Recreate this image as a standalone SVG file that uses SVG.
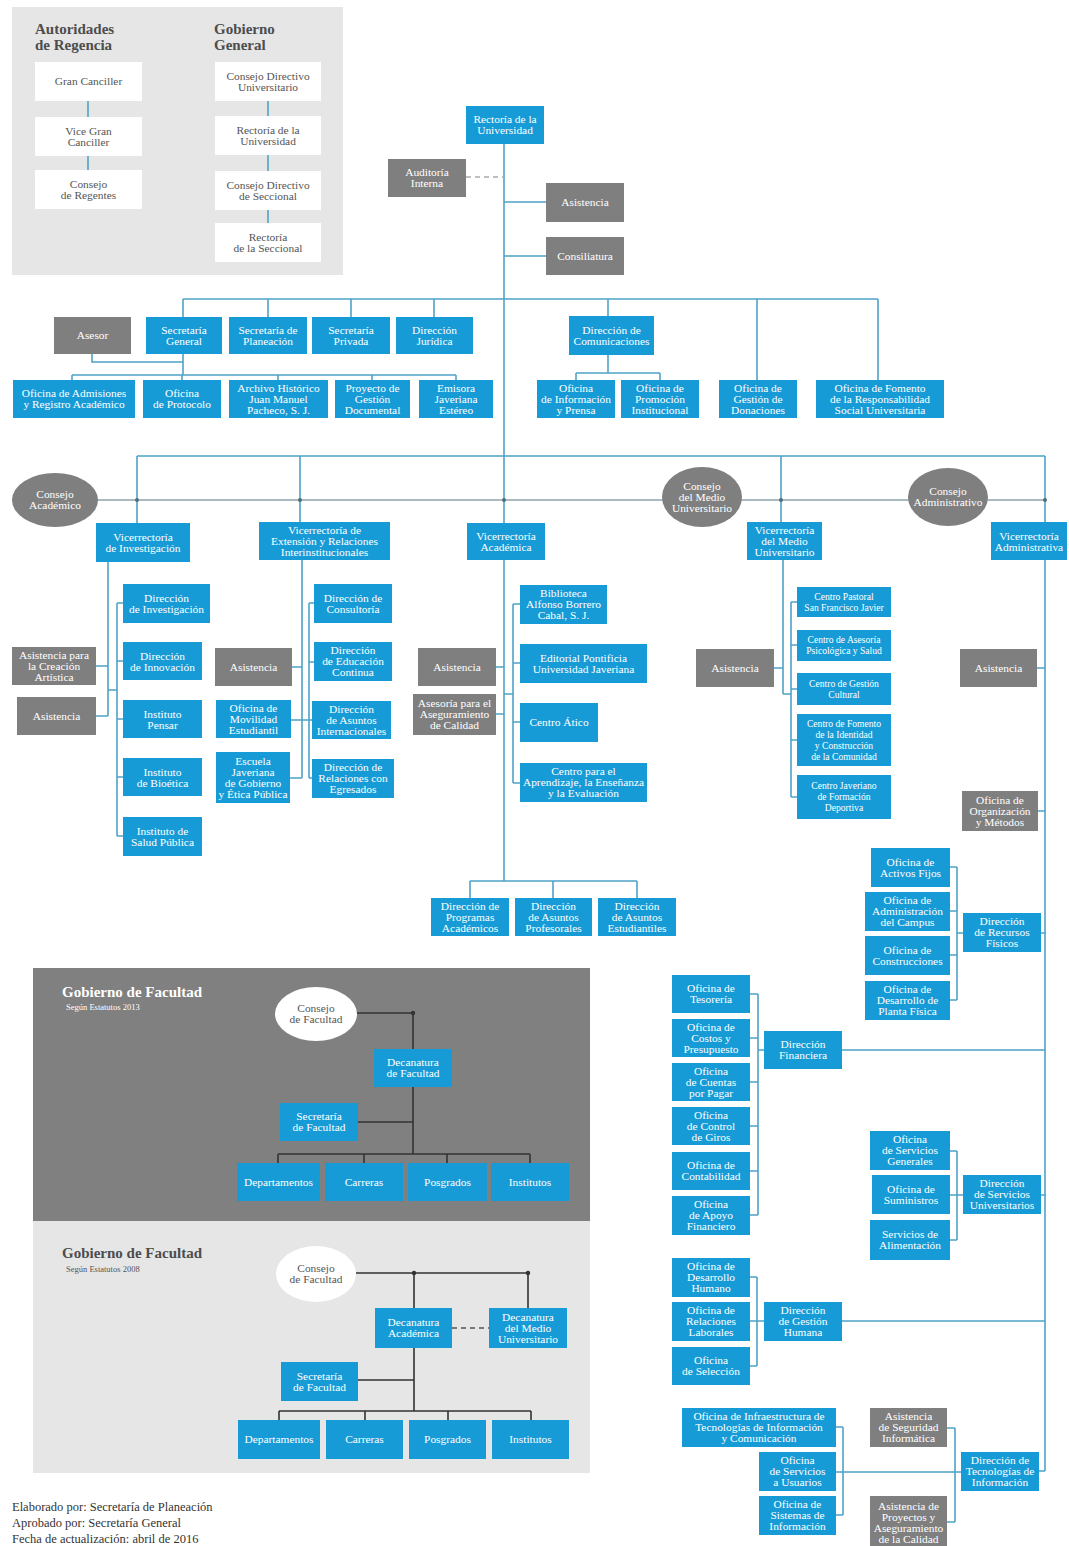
<svg xmlns="http://www.w3.org/2000/svg" width="1069" height="1546" viewBox="0 0 1069 1546">
<style>
.b{fill:#169bd7}
.g{fill:#7f7f7f}
.w{fill:#fff}
.c{stroke:#4fa3c7;stroke-width:1.6;fill:none}
.cg{stroke:#8fa3ad;stroke-width:1.6;fill:none}
.cd{stroke:#333;stroke-width:1.6;fill:none}
.dash{stroke:#aaa;stroke-dasharray:5 4;stroke-width:1.6;fill:none}
.dashd{stroke:#555;stroke-dasharray:5 4;stroke-width:1.6;fill:none}
text{font-family:"Liberation Serif","DejaVu Serif",serif;font-size:11.4px;text-anchor:middle;fill:#fff}
.dk{fill:#555}
.sm{font-size:9.6px}
.ttl{font-size:15px;font-weight:bold;text-anchor:start;fill:#4d4d4d}
.ttlw{font-size:15px;font-weight:bold;text-anchor:start;fill:#fff}
.sub{font-size:8.5px;text-anchor:start}
.ft{font-size:12.5px;text-anchor:start;fill:#333}
</style>
<rect width="1069" height="1546" fill="#fff"/>
<!-- panels -->
<rect x="12" y="7" width="331" height="268" fill="#e6e6e6"/>
<rect x="33" y="968" width="557" height="253" fill="#808080"/>
<rect x="33" y="1221" width="557" height="252" fill="#e6e6e6"/>
<text class="ttl" x="35" y="34">Autoridades</text>
<text class="ttl" x="35" y="50">de Regencia</text>
<text class="ttl" x="214" y="34">Gobierno</text>
<text class="ttl" x="214" y="50">General</text>
<text class="ttlw" x="62" y="997">Gobierno de Facultad</text>
<text class="sub" x="66" y="1010">Según Estatutos 2013</text>
<text class="ttl" x="62" y="1258">Gobierno de Facultad</text>
<text class="sub dk" x="66" y="1272">Según Estatutos 2008</text>

<g id="connectors">
<path class="c" stroke-width="2" d="M88,101V117M88,156V170M268,101V116M268,155V171M268,210V223"/>
<path class="c" d="M504,144V881M504,202H546M504,256H546"/>
<path class="dash" d="M466,177H504"/>
<path class="c" d="M183,299H878M183,299V317M268,299V317M351,299V317M434,299V317M608,299V316M757,299V380M878,299V380"/>
<path class="c" d="M92,354V362H183M183,354V375M72,375H456M72,375V380M182,375V380M278,375V380M372,375V380M456,375V380"/>
<path class="c" d="M608,355V373M576,373H660M576,373V380M660,373V380"/>
<path class="c" d="M137,456H1045M137,456V523M300,456V522M781,456V522M1045,456V1471"/>
<path class="cg" d="M55,500H1045"/>
<g fill="#4d6f80"><circle cx="137" cy="500" r="2"/><circle cx="300" cy="500" r="2"/><circle cx="504" cy="500" r="2"/><circle cx="781" cy="500" r="2"/><circle cx="1045" cy="500" r="2"/></g>
<path class="c" d="M108,562V716M96,666H108M96,716H108M108,690H117M117,603V836M117,603H123M117,661H123M117,719H123M117,777H123M117,836H123"/>
<path class="c" d="M302,560V778M292,667H302M291,720H312M290,778H302M309,603V778M309,603H314M309,662H314M309,778H312"/>
<path class="c" d="M496,667H504M496,714H504M504,694H513M513,604V783M513,604H520M513,663H520M513,722H520M513,783H520"/>
<path class="c" d="M470,881H637M470,881V898M553,881V898M637,881V898"/>
<path class="c" d="M783,560V694M774,668H783M783,694H791M791,602V797M791,602H797M791,645H797M791,689H797M791,740H797M791,797H797"/>
<path class="c" d="M1037,668H1045M1038,811H1045M1041,933H1045M957,867V1000M950,867H957M950,911H957M950,955H957M950,1000H957M957,933H963"/>
<path class="c" d="M842,1050H1045M758,994V1215M758,1050H764M750,994H758M750,1038H758M750,1082H758M750,1126H758M750,1171H758M750,1215H758"/>
<path class="c" d="M1041,1195H1045M957,1151V1240M950,1151H957M950,1195H963M950,1240H957"/>
<path class="c" d="M842,1321H1045M757,1277V1366M750,1277H757M750,1321H764M750,1366H757"/>
<path class="c" d="M1039,1471H1045M836,1472H961M843,1427V1515M836,1427H843M836,1515H843M955,1428V1522M947,1428H955M947,1522H955"/>
<path class="cd" d="M357,1013H413V1154M358,1122H413M278,1154H530M278,1154V1163M364,1154V1163M447,1154V1163M530,1154V1163"/>
<circle cx="413" cy="1013" r="2.2" fill="#333"/>
<path class="cd" d="M356,1273H528M414,1273V1411M528,1273V1308M358,1380H414M279,1411H531M279,1411V1420M365,1411V1420M448,1411V1420M531,1411V1420"/>
<path class="dashd" d="M452,1328H489"/>
<circle cx="414" cy="1273" r="2.2" fill="#333"/><circle cx="528" cy="1273" r="2.2" fill="#333"/>
</g>

<!-- top-left white boxes -->
<g id="gran-canciller"><rect class="w" x="35" y="62" width="107" height="39"/><text class="dk" x="88.5" y="85">Gran Canciller</text></g>
<g id="vice-gran-canciller"><rect class="w" x="35" y="117" width="107" height="39"/><text class="dk"><tspan x="88.5" y="135">Vice Gran</tspan><tspan x="88.5" y="146">Canciller</tspan></text></g>
<g id="consejo-regentes"><rect class="w" x="35" y="170" width="107" height="39"/><text class="dk"><tspan x="88.5" y="188">Consejo</tspan><tspan x="88.5" y="199">de Regentes</tspan></text></g>
<g id="cdu"><rect class="w" x="215" y="62" width="106" height="39"/><text class="dk"><tspan x="268" y="80">Consejo Directivo</tspan><tspan x="268" y="91">Universitario</tspan></text></g>
<g id="rdu"><rect class="w" x="215" y="116" width="106" height="39"/><text class="dk"><tspan x="268" y="134">Rectoría de la</tspan><tspan x="268" y="145">Universidad</tspan></text></g>
<g id="cds"><rect class="w" x="215" y="171" width="106" height="39"/><text class="dk"><tspan x="268" y="189">Consejo Directivo</tspan><tspan x="268" y="200">de Seccional</tspan></text></g>
<g id="rds"><rect class="w" x="215" y="223" width="106" height="39"/><text class="dk"><tspan x="268" y="241">Rectoría</tspan><tspan x="268" y="252">de la Seccional</tspan></text></g>

<!-- top -->
<g id="rectoria"><rect class="b" x="466" y="106" width="78" height="38"/><text><tspan x="505" y="123">Rectoría de la</tspan><tspan x="505" y="134">Universidad</tspan></text></g>
<g id="auditoria"><rect class="g" x="388" y="159" width="78" height="38"/><text><tspan x="427" y="176">Auditoría</tspan><tspan x="427" y="187">Interna</tspan></text></g>
<g id="asistencia0"><rect class="g" x="546" y="183" width="78" height="39"/><text x="585" y="206">Asistencia</text></g>
<g id="consiliatura"><rect class="g" x="546" y="237" width="78" height="38"/><text x="585" y="260">Consiliatura</text></g>

<g id="asesor"><rect class="g" x="54" y="317" width="77" height="37"/><text x="92.5" y="339">Asesor</text></g>
<g id="sec-general"><rect class="b" x="146" y="317" width="76" height="37"/><text><tspan x="184" y="334">Secretaría</tspan><tspan x="184" y="345">General</tspan></text></g>
<g id="sec-planeacion"><rect class="b" x="229" y="317" width="78" height="37"/><text><tspan x="268" y="334">Secretaría de</tspan><tspan x="268" y="345">Planeación</tspan></text></g>
<g id="sec-privada"><rect class="b" x="312" y="317" width="78" height="37"/><text><tspan x="351" y="334">Secretaría</tspan><tspan x="351" y="345">Privada</tspan></text></g>
<g id="dir-juridica"><rect class="b" x="396" y="317" width="77" height="37"/><text><tspan x="434.5" y="334">Dirección</tspan><tspan x="434.5" y="345">Jurídica</tspan></text></g>
<g id="ofi-admisiones"><rect class="b" x="13" y="380" width="122" height="38"/><text><tspan x="74" y="397">Oficina de Admisiones</tspan><tspan x="74" y="408">y Registro Académico</tspan></text></g>
<g id="ofi-protocolo"><rect class="b" x="143" y="380" width="78" height="38"/><text><tspan x="182" y="397">Oficina</tspan><tspan x="182" y="408">de Protocolo</tspan></text></g>
<g id="archivo"><rect class="b" x="229" y="380" width="99" height="38"/><text><tspan x="278.5" y="392">Archivo Histórico</tspan><tspan x="278.5" y="403">Juan Manuel</tspan><tspan x="278.5" y="414">Pacheco, S. J.</tspan></text></g>
<g id="proyecto-gd"><rect class="b" x="335" y="380" width="75" height="38"/><text><tspan x="372.5" y="392">Proyecto de</tspan><tspan x="372.5" y="403">Gestión</tspan><tspan x="372.5" y="414">Documental</tspan></text></g>
<g id="emisora"><rect class="b" x="419" y="380" width="74" height="38"/><text><tspan x="456" y="392">Emisora</tspan><tspan x="456" y="403">Javeriana</tspan><tspan x="456" y="414">Estéreo</tspan></text></g>
<g id="dir-comunicaciones"><rect class="b" x="569" y="316" width="85" height="39"/><text><tspan x="611.5" y="334">Dirección de</tspan><tspan x="611.5" y="345">Comunicaciones</tspan></text></g>
<g id="ofi-info-prensa"><rect class="b" x="537" y="380" width="78" height="38"/><text><tspan x="576" y="392">Oficina</tspan><tspan x="576" y="403">de Información</tspan><tspan x="576" y="414">y Prensa</tspan></text></g>
<g id="ofi-promocion"><rect class="b" x="621" y="380" width="78" height="38"/><text><tspan x="660" y="392">Oficina de</tspan><tspan x="660" y="403">Promoción</tspan><tspan x="660" y="414">Institucional</tspan></text></g>
<g id="ofi-donaciones"><rect class="b" x="719" y="380" width="78" height="38"/><text><tspan x="758" y="392">Oficina de</tspan><tspan x="758" y="403">Gestión de</tspan><tspan x="758" y="414">Donaciones</tspan></text></g>
<g id="ofi-rsu"><rect class="b" x="816" y="380" width="128" height="38"/><text><tspan x="880" y="392">Oficina de Fomento</tspan><tspan x="880" y="403">de la Responsabilidad</tspan><tspan x="880" y="414">Social Universitaria</tspan></text></g>

<!-- consejos -->
<g id="consejo-academico"><ellipse class="g" cx="55" cy="500" rx="43" ry="27"/><text><tspan x="55" y="498">Consejo</tspan><tspan x="55" y="509">Académico</tspan></text></g>
<g id="consejo-medio"><ellipse class="g" cx="702" cy="497" rx="40" ry="30"/><text><tspan x="702" y="490">Consejo</tspan><tspan x="702" y="501">del Medio</tspan><tspan x="702" y="512">Universitario</tspan></text></g>
<g id="consejo-admin"><ellipse class="g" cx="948" cy="497" rx="40" ry="29"/><text><tspan x="948" y="495">Consejo</tspan><tspan x="948" y="506">Administrativo</tspan></text></g>

<!-- vicerrectorias -->
<g id="vic-investigacion"><rect class="b" x="96" y="523" width="94" height="39"/><text><tspan x="143" y="541">Vicerrectoría</tspan><tspan x="143" y="552">de Investigación</tspan></text></g>
<g id="vic-extension"><rect class="b" x="259" y="522" width="131" height="38"/><text><tspan x="324.5" y="534">Vicerrectoría de</tspan><tspan x="324.5" y="545">Extensión y Relaciones</tspan><tspan x="324.5" y="556">Interinstitucionales</tspan></text></g>
<g id="vic-academica"><rect class="b" x="467" y="523" width="78" height="37"/><text><tspan x="506" y="540">Vicerrectoría</tspan><tspan x="506" y="551">Académica</tspan></text></g>
<g id="vic-medio"><rect class="b" x="747" y="522" width="75" height="38"/><text><tspan x="784.5" y="534">Vicerrectoría</tspan><tspan x="784.5" y="545">del Medio</tspan><tspan x="784.5" y="556">Universitario</tspan></text></g>
<g id="vic-admin"><rect class="b" x="991" y="522" width="76" height="38"/><text><tspan x="1029" y="540">Vicerrectoría</tspan><tspan x="1029" y="551">Administrativa</tspan></text></g>

<!-- investigacion -->
<g id="asis-creacion"><rect class="g" x="12" y="647" width="84" height="38"/><text><tspan x="54" y="659">Asistencia para</tspan><tspan x="54" y="670">la Creación</tspan><tspan x="54" y="681">Artística</tspan></text></g>
<g id="asis1"><rect class="g" x="17" y="697" width="79" height="38"/><text x="56.5" y="720">Asistencia</text></g>
<g id="dir-investigacion"><rect class="b" x="123" y="584" width="87" height="39"/><text><tspan x="166.5" y="602">Dirección</tspan><tspan x="166.5" y="613">de Investigación</tspan></text></g>
<g id="dir-innovacion"><rect class="b" x="123" y="642" width="79" height="38"/><text><tspan x="162.5" y="659.5">Dirección</tspan><tspan x="162.5" y="670.5">de Innovación</tspan></text></g>
<g id="inst-pensar"><rect class="b" x="123" y="700" width="79" height="38"/><text><tspan x="162.5" y="717.5">Instituto</tspan><tspan x="162.5" y="728.5">Pensar</tspan></text></g>
<g id="inst-bioetica"><rect class="b" x="123" y="758" width="79" height="38"/><text><tspan x="162.5" y="775.5">Instituto</tspan><tspan x="162.5" y="786.5">de Bioética</tspan></text></g>
<g id="inst-salud"><rect class="b" x="123" y="817" width="79" height="39"/><text><tspan x="162.5" y="835">Instituto de</tspan><tspan x="162.5" y="846">Salud Pública</tspan></text></g>

<!-- extension -->
<g id="asis2"><rect class="g" x="215" y="648" width="77" height="38"/><text x="253.5" y="671">Asistencia</text></g>
<g id="ofi-movilidad"><rect class="b" x="216" y="700" width="75" height="38"/><text><tspan x="253.5" y="712">Oficina de</tspan><tspan x="253.5" y="723">Movilidad</tspan><tspan x="253.5" y="734">Estudiantil</tspan></text></g>
<g id="escuela-gobierno"><rect class="b" x="216" y="752" width="74" height="51"/><text><tspan x="253" y="765">Escuela</tspan><tspan x="253" y="776">Javeriana</tspan><tspan x="253" y="787">de Gobierno</tspan><tspan x="253" y="798">y Ética Pública</tspan></text></g>
<g id="dir-consultoria"><rect class="b" x="314" y="584" width="78" height="39"/><text><tspan x="353" y="602">Dirección de</tspan><tspan x="353" y="613">Consultoría</tspan></text></g>
<g id="dir-educacion"><rect class="b" x="314" y="642" width="78" height="39"/><text><tspan x="353" y="654">Dirección</tspan><tspan x="353" y="665">de Educación</tspan><tspan x="353" y="676">Continua</tspan></text></g>
<g id="dir-internacionales"><rect class="b" x="312" y="701" width="79" height="38"/><text><tspan x="351.5" y="713">Dirección</tspan><tspan x="351.5" y="724">de Asuntos</tspan><tspan x="351.5" y="735">Internacionales</tspan></text></g>
<g id="dir-egresados"><rect class="b" x="312" y="759" width="82" height="39"/><text><tspan x="353" y="771">Dirección de</tspan><tspan x="353" y="782">Relaciones con</tspan><tspan x="353" y="793">Egresados</tspan></text></g>

<!-- academica -->
<g id="asis3"><rect class="g" x="418" y="648" width="78" height="38"/><text x="457" y="671">Asistencia</text></g>
<g id="asesoria-calidad"><rect class="g" x="413" y="694" width="83" height="41"/><text><tspan x="454.5" y="707">Asesoría para el</tspan><tspan x="454.5" y="718">Aseguramiento</tspan><tspan x="454.5" y="729">de Calidad</tspan></text></g>
<g id="biblioteca"><rect class="b" x="520" y="585" width="87" height="39"/><text><tspan x="563.5" y="597">Biblioteca</tspan><tspan x="563.5" y="608">Alfonso Borrero</tspan><tspan x="563.5" y="619">Cabal, S. J.</tspan></text></g>
<g id="editorial"><rect class="b" x="520" y="644" width="127" height="39"/><text><tspan x="583.5" y="662">Editorial Pontificia</tspan><tspan x="583.5" y="673">Universidad Javeriana</tspan></text></g>
<g id="centro-atico"><rect class="b" x="520" y="703" width="78" height="39"/><text x="559" y="726">Centro Ático</text></g>
<g id="centro-aprendizaje"><rect class="b" x="520" y="763" width="127" height="39"/><text><tspan x="583.5" y="775">Centro para el</tspan><tspan x="583.5" y="786">Aprendizaje, la Enseñanza</tspan><tspan x="583.5" y="797">y la Evaluación</tspan></text></g>
<g id="dir-programas"><rect class="b" x="431" y="898" width="78" height="38"/><text><tspan x="470" y="910">Dirección de</tspan><tspan x="470" y="921">Programas</tspan><tspan x="470" y="932">Académicos</tspan></text></g>
<g id="dir-profesorales"><rect class="b" x="515" y="898" width="77" height="38"/><text><tspan x="553.5" y="910">Dirección</tspan><tspan x="553.5" y="921">de Asuntos</tspan><tspan x="553.5" y="932">Profesorales</tspan></text></g>
<g id="dir-estudiantiles"><rect class="b" x="598" y="898" width="78" height="38"/><text><tspan x="637" y="910">Dirección</tspan><tspan x="637" y="921">de Asuntos</tspan><tspan x="637" y="932">Estudiantiles</tspan></text></g>

<!-- medio -->
<g id="asis4"><rect class="g" x="696" y="649" width="78" height="38"/><text x="735" y="672">Asistencia</text></g>
<g id="centro-pastoral"><rect class="b" x="797" y="587" width="94" height="30"/><text class="sm"><tspan x="844" y="600">Centro Pastoral</tspan><tspan x="844" y="611">San Francisco Javier</tspan></text></g>
<g id="centro-asesoria"><rect class="b" x="797" y="630" width="94" height="31"/><text class="sm"><tspan x="844" y="643">Centro de Asesoría</tspan><tspan x="844" y="654">Psicológica y Salud</tspan></text></g>
<g id="centro-gestion"><rect class="b" x="797" y="673" width="94" height="32"/><text class="sm"><tspan x="844" y="687">Centro de Gestión</tspan><tspan x="844" y="698">Cultural</tspan></text></g>
<g id="centro-fomento"><rect class="b" x="797" y="714" width="94" height="52"/><text class="sm"><tspan x="844" y="727">Centro de Fomento</tspan><tspan x="844" y="738">de la Identidad</tspan><tspan x="844" y="749">y Construcción</tspan><tspan x="844" y="760">de la Comunidad</tspan></text></g>
<g id="centro-deportiva"><rect class="b" x="797" y="775" width="94" height="44"/><text class="sm"><tspan x="844" y="789">Centro Javeriano</tspan><tspan x="844" y="800">de Formación</tspan><tspan x="844" y="811">Deportiva</tspan></text></g>

<!-- administrativa -->
<g id="asis5"><rect class="g" x="960" y="649" width="77" height="38"/><text x="998.5" y="672">Asistencia</text></g>
<g id="ofi-organizacion"><rect class="g" x="962" y="791" width="76" height="40"/><text><tspan x="1000" y="804">Oficina de</tspan><tspan x="1000" y="815">Organización</tspan><tspan x="1000" y="826">y Métodos</tspan></text></g>
<g id="dir-recursos"><rect class="b" x="963" y="913" width="78" height="39"/><text><tspan x="1002" y="925">Dirección</tspan><tspan x="1002" y="936">de Recursos</tspan><tspan x="1002" y="947">Físicos</tspan></text></g>
<g id="ofi-activos"><rect class="b" x="871" y="848" width="79" height="39"/><text><tspan x="910.5" y="866">Oficina de</tspan><tspan x="910.5" y="877">Activos Fijos</tspan></text></g>
<g id="ofi-campus"><rect class="b" x="865" y="892" width="85" height="39"/><text><tspan x="907.5" y="904">Oficina de</tspan><tspan x="907.5" y="915">Administración</tspan><tspan x="907.5" y="926">del Campus</tspan></text></g>
<g id="ofi-construcciones"><rect class="b" x="865" y="936" width="85" height="39"/><text><tspan x="907.5" y="954">Oficina de</tspan><tspan x="907.5" y="965">Construcciones</tspan></text></g>
<g id="ofi-planta"><rect class="b" x="865" y="981" width="85" height="39"/><text><tspan x="907.5" y="993">Oficina de</tspan><tspan x="907.5" y="1004">Desarrollo de</tspan><tspan x="907.5" y="1015">Planta Física</tspan></text></g>
<g id="dir-financiera"><rect class="b" x="764" y="1031" width="78" height="38"/><text><tspan x="803" y="1048">Dirección</tspan><tspan x="803" y="1059">Financiera</tspan></text></g>
<g id="ofi-tesoreria"><rect class="b" x="672" y="975" width="78" height="38"/><text><tspan x="711" y="992">Oficina de</tspan><tspan x="711" y="1003">Tesorería</tspan></text></g>
<g id="ofi-costos"><rect class="b" x="672" y="1019" width="78" height="38"/><text><tspan x="711" y="1031">Oficina de</tspan><tspan x="711" y="1042">Costos y</tspan><tspan x="711" y="1053">Presupuesto</tspan></text></g>
<g id="ofi-cuentas"><rect class="b" x="672" y="1063" width="78" height="38"/><text><tspan x="711" y="1075">Oficina</tspan><tspan x="711" y="1086">de Cuentas</tspan><tspan x="711" y="1097">por Pagar</tspan></text></g>
<g id="ofi-giros"><rect class="b" x="672" y="1107" width="78" height="38"/><text><tspan x="711" y="1119">Oficina</tspan><tspan x="711" y="1130">de Control</tspan><tspan x="711" y="1141">de Giros</tspan></text></g>
<g id="ofi-contabilidad"><rect class="b" x="672" y="1152" width="78" height="38"/><text><tspan x="711" y="1169">Oficina de</tspan><tspan x="711" y="1180">Contabilidad</tspan></text></g>
<g id="ofi-apoyo"><rect class="b" x="672" y="1196" width="78" height="39"/><text><tspan x="711" y="1208">Oficina</tspan><tspan x="711" y="1219">de Apoyo</tspan><tspan x="711" y="1230">Financiero</tspan></text></g>
<g id="dir-servicios"><rect class="b" x="963" y="1175" width="78" height="39"/><text><tspan x="1002" y="1187">Dirección</tspan><tspan x="1002" y="1198">de Servicios</tspan><tspan x="1002" y="1209">Universitarios</tspan></text></g>
<g id="ofi-serv-generales"><rect class="b" x="870" y="1131" width="80" height="39"/><text><tspan x="910" y="1143">Oficina</tspan><tspan x="910" y="1154">de Servicios</tspan><tspan x="910" y="1165">Generales</tspan></text></g>
<g id="ofi-suministros"><rect class="b" x="872" y="1175" width="78" height="39"/><text><tspan x="911" y="1193">Oficina de</tspan><tspan x="911" y="1204">Suministros</tspan></text></g>
<g id="serv-alimentacion"><rect class="b" x="870" y="1220" width="80" height="40"/><text><tspan x="910" y="1238">Servicios de</tspan><tspan x="910" y="1249">Alimentación</tspan></text></g>
<g id="dir-gestion-humana"><rect class="b" x="764" y="1302" width="78" height="39"/><text><tspan x="803" y="1314">Dirección</tspan><tspan x="803" y="1325">de Gestión</tspan><tspan x="803" y="1336">Humana</tspan></text></g>
<g id="ofi-des-humano"><rect class="b" x="672" y="1258" width="78" height="39"/><text><tspan x="711" y="1270">Oficina de</tspan><tspan x="711" y="1281">Desarrollo</tspan><tspan x="711" y="1292">Humano</tspan></text></g>
<g id="ofi-relaciones"><rect class="b" x="672" y="1302" width="78" height="39"/><text><tspan x="711" y="1314">Oficina de</tspan><tspan x="711" y="1325">Relaciones</tspan><tspan x="711" y="1336">Laborales</tspan></text></g>
<g id="ofi-seleccion"><rect class="b" x="672" y="1347" width="78" height="38"/><text><tspan x="711" y="1364">Oficina</tspan><tspan x="711" y="1375">de Selección</tspan></text></g>
<g id="dir-tecnologias"><rect class="b" x="961" y="1452" width="78" height="39"/><text><tspan x="1000" y="1464">Dirección de</tspan><tspan x="1000" y="1475">Tecnologías de</tspan><tspan x="1000" y="1486">Información</tspan></text></g>
<g id="ofi-infraestructura"><rect class="b" x="682" y="1408" width="154" height="39"/><text><tspan x="759" y="1420">Oficina de Infraestructura de</tspan><tspan x="759" y="1431">Tecnologías de Información</tspan><tspan x="759" y="1442">y Comunicación</tspan></text></g>
<g id="ofi-usuarios"><rect class="b" x="759" y="1452" width="77" height="39"/><text><tspan x="797.5" y="1464">Oficina</tspan><tspan x="797.5" y="1475">de Servicios</tspan><tspan x="797.5" y="1486">a Usuarios</tspan></text></g>
<g id="ofi-sistemas"><rect class="b" x="759" y="1496" width="77" height="39"/><text><tspan x="797.5" y="1508">Oficina de</tspan><tspan x="797.5" y="1519">Sistemas de</tspan><tspan x="797.5" y="1530">Información</tspan></text></g>
<g id="asis-seguridad"><rect class="g" x="870" y="1408" width="77" height="39"/><text><tspan x="908.5" y="1420">Asistencia</tspan><tspan x="908.5" y="1431">de Seguridad</tspan><tspan x="908.5" y="1442">Informática</tspan></text></g>
<g id="asis-proyectos"><rect class="g" x="870" y="1496" width="77" height="55"/><text><tspan x="908.5" y="1510">Asistencia de</tspan><tspan x="908.5" y="1521">Proyectos y</tspan><tspan x="908.5" y="1532">Aseguramiento</tspan><tspan x="908.5" y="1543">de la Calidad</tspan></text></g>

<!-- facultad 2013 -->
<g id="f13-consejo"><ellipse class="w" cx="316" cy="1014" rx="41" ry="27"/><text class="dk"><tspan x="316" y="1012">Consejo</tspan><tspan x="316" y="1023">de Facultad</tspan></text></g>
<g id="f13-decanatura"><rect class="b" x="374" y="1049" width="78" height="38"/><text><tspan x="413" y="1066">Decanatura</tspan><tspan x="413" y="1077">de Facultad</tspan></text></g>
<g id="f13-secretaria"><rect class="b" x="280" y="1103" width="78" height="38"/><text><tspan x="319" y="1120">Secretaría</tspan><tspan x="319" y="1131">de Facultad</tspan></text></g>
<g id="f13-departamentos"><rect class="b" x="237" y="1163" width="83" height="38"/><text x="278.5" y="1186">Departamentos</text></g>
<g id="f13-carreras"><rect class="b" x="325" y="1163" width="78" height="38"/><text x="364" y="1186">Carreras</text></g>
<g id="f13-posgrados"><rect class="b" x="408" y="1163" width="79" height="38"/><text x="447.5" y="1186">Posgrados</text></g>
<g id="f13-institutos"><rect class="b" x="491" y="1163" width="78" height="38"/><text x="530" y="1186">Institutos</text></g>

<!-- facultad 2008 -->
<g id="f08-consejo"><ellipse class="w" cx="316" cy="1274" rx="40" ry="28"/><text class="dk"><tspan x="316" y="1272">Consejo</tspan><tspan x="316" y="1283">de Facultad</tspan></text></g>
<g id="f08-dec-academica"><rect class="b" x="375" y="1308" width="77" height="40"/><text><tspan x="413.5" y="1326">Decanatura</tspan><tspan x="413.5" y="1337">Académica</tspan></text></g>
<g id="f08-dec-medio"><rect class="b" x="489" y="1308" width="78" height="40"/><text><tspan x="528" y="1321">Decanatura</tspan><tspan x="528" y="1332">del Medio</tspan><tspan x="528" y="1343">Universitario</tspan></text></g>
<g id="f08-secretaria"><rect class="b" x="281" y="1362" width="77" height="39"/><text><tspan x="319.5" y="1380">Secretaría</tspan><tspan x="319.5" y="1391">de Facultad</tspan></text></g>
<g id="f08-departamentos"><rect class="b" x="238" y="1420" width="82" height="39"/><text x="279" y="1443">Departamentos</text></g>
<g id="f08-carreras"><rect class="b" x="326" y="1420" width="77" height="39"/><text x="364.5" y="1443">Carreras</text></g>
<g id="f08-posgrados"><rect class="b" x="409" y="1420" width="77" height="39"/><text x="447.5" y="1443">Posgrados</text></g>
<g id="f08-institutos"><rect class="b" x="492" y="1420" width="77" height="39"/><text x="530.5" y="1443">Institutos</text></g>

<text class="ft" x="12" y="1511">Elaborado por: Secretaría de Planeación</text>
<text class="ft" x="12" y="1527">Aprobado por: Secretaría General</text>
<text class="ft" x="12" y="1543">Fecha de actualización: abril de 2016</text>
</svg>
